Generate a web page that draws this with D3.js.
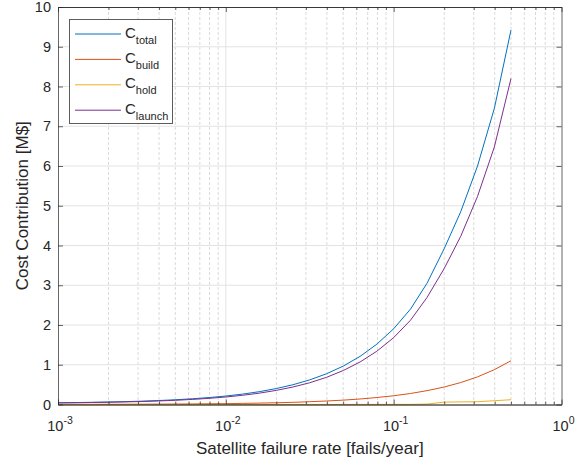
<!DOCTYPE html>
<html><head><meta charset="utf-8">
<script src="https://cdn.jsdelivr.net/npm/d3@7"></script>
<style>body{margin:0;background:#fff}svg{display:block}</style></head>
<body><svg id="c" width="575" height="465"></svg>
<script>
const failRate = [0.001,0.00126,0.00158,0.002,0.00251,0.00316,0.00398,0.00501,0.00631,0.00794,
  0.01,0.0126,0.0158,0.02,0.0251,0.0316,0.0398,0.0501,0.0631,0.0794,
  0.1,0.126,0.158,0.2,0.251,0.316,0.398,0.5];
const cTotal = [0.044,0.049,0.055,0.063,0.072,0.084,0.100,0.119,0.144,0.174,
  0.213,0.262,0.322,0.401,0.497,0.619,0.773,0.967,1.211,1.518,
  1.905,2.40,3.05,3.92,4.85,6.0,7.45,9.42];
const cBuild = [0.002,0.003,0.0035,0.0044,0.0055,0.007,0.0088,0.011,0.014,0.0175,
  0.022,0.028,0.035,0.044,0.055,0.070,0.088,0.110,0.139,0.175,
  0.220,0.277,0.348,0.440,0.552,0.695,0.876,1.10];
const cHold = [0.002,0.002,0.002,0.002,0.002,0.002,0.002,0.002,0.002,0.002,
  0.002,0.002,0.002,0.002,0.002,0.002,0.002,0.002,0.002,0.002,
  0.003,0.003,0.01,0.06,0.065,0.07,0.095,0.12];
const cLaunch = [0.040,0.044,0.050,0.057,0.065,0.075,0.089,0.106,0.128,0.155,
  0.189,0.232,0.285,0.355,0.440,0.547,0.683,0.855,1.070,1.341,
  1.682,2.120,2.692,3.42,4.233,5.235,6.479,8.20];
const yTicks = [0,1,2,3,4,5,6,7,8,9,10];
const xTickExps = [-3,-2,-1,0];
const seriesNames = ["total","build","hold","launch"];
const seriesColors = ["#0072BD","#D95319","#EDB120","#7E2F8E"];

const L = 58, R = 561.5, T = 7, B = 404.5;
const svg = d3.select("#c");
const font = "'Liberation Sans', Arial, Helvetica, sans-serif";
const x = d3.scaleLog().domain([1e-3, 1]).range([L, R]);
const y = d3.scaleLinear().domain([0, 10]).range([B, T]);

const minors = [];
for (let e = -3; e < 0; e++) for (let m = 2; m <= 9; m++) minors.push(m * Math.pow(10, e));
const majors = xTickExps.map(e => Math.pow(10, e));

const g = svg.append("g");
// grid
g.selectAll(".ming").data(minors).enter().append("line")
  .attr("x1", d => x(d)).attr("x2", d => x(d)).attr("y1", T).attr("y2", B)
  .attr("stroke", "#dadada").attr("stroke-width", 1).attr("stroke-dasharray", "3,2");
g.selectAll(".majgx").data(majors.slice(1, 3)).enter().append("line")
  .attr("x1", d => x(d)).attr("x2", d => x(d)).attr("y1", T).attr("y2", B)
  .attr("stroke", "#e3e3e3").attr("stroke-width", 1);
g.selectAll(".majgy").data(yTicks.slice(1, 10)).enter().append("line")
  .attr("x1", L).attr("x2", R).attr("y1", d => y(d)).attr("y2", d => y(d))
  .attr("stroke", "#e3e3e3").attr("stroke-width", 1);

// lines
const seriesData = [cTotal, cBuild, cHold, cLaunch];
const line = d3.line().x(d => x(d[0])).y(d => y(d[1]));
seriesData.forEach((vals, i) => {
  g.append("path").datum(failRate.map((f, j) => [f, vals[j]]))
    .attr("d", line).attr("fill", "none").attr("stroke", seriesColors[i]).attr("stroke-width", 1);
});

// axes with D3 axis generators
const axCol = "#262626";
const fmtNone = () => "";
const axB = d3.axisBottom(x).tickValues(majors).tickSize(-5).tickFormat(fmtNone);
const axBm = d3.axisBottom(x).tickValues(minors).tickSize(-3).tickFormat(fmtNone);
const axT = d3.axisTop(x).tickValues(majors).tickSize(-5).tickFormat(fmtNone);
const axTm = d3.axisTop(x).tickValues(minors).tickSize(-3).tickFormat(fmtNone);
const axL = d3.axisLeft(y).tickValues(yTicks).tickSize(-5).tickFormat(fmtNone);
const axR = d3.axisRight(y).tickValues(yTicks).tickSize(-5).tickFormat(fmtNone);
[[axB, `translate(0,${B})`], [axBm, `translate(0,${B})`], [axT, `translate(0,${T})`], [axTm, `translate(0,${T})`],
 [axL, `translate(${L},0)`], [axR, `translate(${R},0)`]].forEach(([a, tr]) => {
  const ag = svg.append("g").attr("transform", tr).call(a.tickSizeOuter(0));
  ag.select(".domain").attr("stroke", axCol).attr("stroke-opacity", 0.7);
  ag.selectAll(".tick line").attr("stroke", axCol).attr("stroke-opacity", 0.7);
});

// y tick labels
svg.selectAll(".ylab").data(yTicks).enter().append("text")
  .attr("x", L - 7).attr("y", d => y(d) + 5).attr("text-anchor", "end")
  .attr("font-family", font).attr("font-size", 14.5).attr("fill", axCol).text(d => d);
// x tick labels
xTickExps.forEach(e => {
  const t = svg.append("text").attr("x", x(Math.pow(10, e)) + 2).attr("y", 431)
    .attr("text-anchor", "middle").attr("font-family", font).attr("font-size", 14.5).attr("fill", axCol);
  t.append("tspan").text("10");
  t.append("tspan").attr("dy", -7).attr("font-size", 10.5).text(e === 0 ? "0" : "-" + (-e));
});
// axis titles
svg.append("text").attr("x", (L + R) / 2).attr("y", 454).attr("text-anchor", "middle")
  .attr("font-family", font).attr("font-size", 17).attr("fill", axCol).text("Satellite failure rate [fails/year]");
svg.append("text").attr("transform", `translate(28,${(T + B) / 2}) rotate(-90)`).attr("text-anchor", "middle")
  .attr("font-family", font).attr("font-size", 17).attr("fill", axCol).text("Cost Contribution [M$]");

// legend
const lg = svg.append("g");
lg.append("rect").attr("x", 69.5).attr("y", 19.5).attr("width", 103).attr("height", 104)
  .attr("fill", "#fff").attr("stroke", axCol).attr("stroke-opacity", 0.75).attr("stroke-width", 1);
seriesNames.forEach((n, i) => {
  const yy = 34 + i * 25.4;
  lg.append("line").attr("x1", 75).attr("x2", 121).attr("y1", yy).attr("y2", yy)
    .attr("stroke", seriesColors[i]).attr("stroke-width", 1);
  const t = lg.append("text").attr("x", 125).attr("y", yy + 3.5).attr("font-family", font)
    .attr("font-size", 15).attr("fill", axCol);
  t.append("tspan").text("C");
  t.append("tspan").attr("dy", 6).attr("font-size", 11).text(n);
});
</script></body></html>
